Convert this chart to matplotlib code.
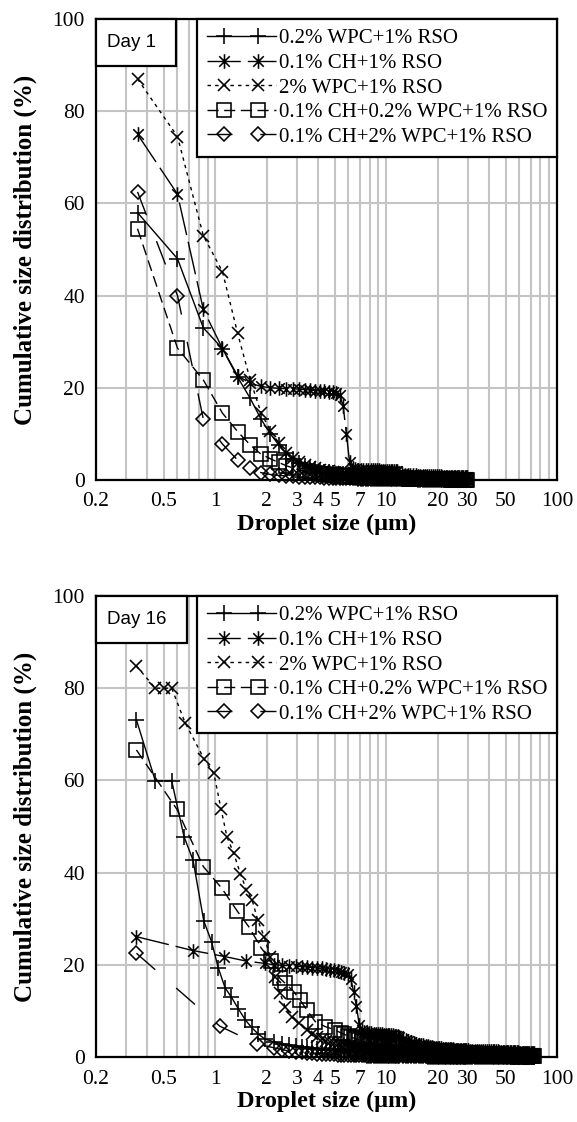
import numpy as np
import matplotlib
matplotlib.use('Agg')
import matplotlib.pyplot as plt
from matplotlib.path import Path
from matplotlib.lines import Line2D
from matplotlib.patches import Rectangle
from matplotlib.legend_handler import HandlerBase
from matplotlib.ticker import FixedLocator, LogLocator, NullFormatter

plt.rcParams['font.family'] = ['Liberation Serif', 'DejaVu Serif']
plt.rcParams['lines.scale_dashes'] = False

labels = ['0.2% WPC+1% RSO', '0.1% CH+1% RSO', '2% WPC+1% RSO',
          '0.1% CH+0.2% WPC+1% RSO', '0.1% CH+2% WPC+1% RSO']
xticks = [0.2, 0.5, 1, 2, 3, 4, 5, 7, 10, 20, 30, 50, 100]
xtick_labels = ['0.2', '0.5', '1', '2', '3', '4', '5', '7', '10', '20', '30', '50', '100']
yticks = [0, 20, 40, 60, 80, 100]

# ---- Day 1: all five samples share the same size classes ----
x_day1 = [0.35, 0.6, 0.85, 1.1, 1.35, 1.6, 1.85, 2.1, 2.35, 2.6, 2.85, 3.1, 3.35, 3.6,
          3.85, 4.1, 4.35, 4.6, 4.85, 5.1, 5.35, 5.6, 5.85, 6.1, 6.35, 6.6, 6.85, 7.1,
          7.35, 7.6, 7.85, 8.1, 8.35, 8.6, 8.85, 9.1, 9.35, 9.6, 9.85, 10.1, 10.35, 10.6,
          10.85, 11.1, 11.35, 11.6, 11.85,
          12.35, 12.85, 13.35, 13.85, 14.35, 14.85, 15.35, 15.85, 16.35, 16.85, 17.35,
          17.85, 18.35, 18.85, 19.35, 19.85, 20.35, 20.85, 21.35, 21.85, 22.35, 22.85,
          23.35, 23.85, 24.35, 24.85, 25.35, 25.85, 26.35, 26.85, 27.35, 27.85, 28.35,
          28.85, 29.35, 29.85]
d1_wpc02 = [58.0, 48.0, 33.0, 28.5, 22.3, 17.7, 13.2, 10.0, 7.6, 5.8, 4.6, 3.7, 3.1, 2.6,
            2.3, 2.0, 1.8, 1.65, 1.5, 1.4, 1.3, 1.2, 1.15, 1.1, 1.05, 1.0, .95, .9, .9, .85,
            .85, .8, .8, .75, .75, .7, .7, .7, .65, .65, .6, .6, .6, .55, .55, .55, .5,
            .5, .5, .45, .45, .45, .4, .4, .4, .35, .35, .35, .3, .3, .3, .3, .25, .25, .25,
            .25, .2, .2, .2, .2, .2, .15, .15, .15, .15, .15, .1, .1, .1, .1, .1, .1, .1]
d1_ch = [75.0, 62.0, 37.0, 28.5, 22.6, 21.0, 20.3, 20.0, 19.9, 19.8, 19.8, 19.7, 19.6, 19.5,
         19.4, 19.3, 19.2, 19.1, 19.0, 18.8, 18.4, 16.0, 10.0, 4.0, 2.6, 2.3, 2.2, 2.2, 2.2,
         2.2, 2.1, 2.1, 2.1, 2.1, 2.1, 2.1, 2.0, 2.0, 2.0, 2.0, 2.0, 2.0, 1.9, 1.9, 1.9, 1.9,
         1.3,
         1.2, 1.1, 1.1, 1.0, 1.0, 1.0, .9, .9, .9, .9, .8, .8, .8, .8, .8, .8, .8, .8, .7,
         .7, .7, .7, .7, .7, .7, .7, .7, .7, .6, .6, .6, .6, .6, .6, .6, .6]
d1_wpc2 = [87.0, 74.5, 53.0, 45.2, 31.8, 21.7, 14.6, 10.7, 8.0, 5.9, 4.7, 3.8, 3.2, 2.8,
           2.5, 2.2, 2.0, 1.85, 1.7, 1.6, 1.5, 1.45, 1.4, 1.35, 1.3, 1.25, 1.2, 1.15, 1.1,
           1.1, 1.05, 1.05, 1.0, 1.0, .95, .95, .9, .9, .85, .85, .8, .8, .8, .75, .75, .75,
           .7,
           .7, .65, .65, .6, .6, .55, .55, .5, .5, .5, .45, .45, .45, .4, .4, .4, .35, .35,
           .35, .35, .3, .3, .3, .3, .3, .25, .25, .25, .25, .25, .2, .2, .2, .2, .2, .2]
d1_ch_wpc02 = [54.5, 28.6, 21.7, 14.5, 10.5, 7.6, 5.6, 4.6, 3.8, 3.1, 2.6, 2.2, 1.9, 1.7,
               1.5, 1.35, 1.25, 1.15, 1.05, 1.0, .95, .9, .85, .8, .75, .7, .7, .65, .65, .6,
               .6, .55, .55, .55, .5, .5, .5, .45, .45, .45, .45, .4, .4, .4, .4, .4, .35,
               .35, .35, .3, .3, .3, .3, .25, .25, .25, .25, .25, .2, .2, .2, .2, .2, .2,
               .15, .15, .15, .15, .15, .15, .1, .1, .1, .1, .1, .1, .1, .05, .05, .05, .05,
               .05, .05]
d1_ch_wpc2 = [62.5, 40.0, 13.2, 7.8, 4.3, 2.5, 1.6, 1.2, 1.0, .9, .8, .75, .7, .65, .6, .55,
              .5, .5, .45, .45, .4, .4, .4, .35, .35, .35, .3, .3, .3, .3, .3, .25, .25, .25,
              .25, .25, .2, .2, .2, .2, .2, .2, .2, .15, .15, .15, .15,
              .15, .15, .15, .15, .15, .15, .1, .1, .1, .1, .1, .1, .1, .1, .1, .1, .1, .1,
              .1, .1, .05, .05, .05, .05, .05, .05, .05, .05, .05, .05, .05, .05, .05, .05,
              .05, .05]

# ---- Day 16: first points differ per sample, then common size classes ----
x_tail16 = [2.2, 2.45, 2.7, 2.95, 3.2, 3.45, 3.7, 3.95, 4.2, 4.45, 4.7, 4.95, 5.2, 5.45,
            5.7, 5.95, 6.2, 6.45, 6.7, 6.95, 7.2, 7.45, 7.7, 7.95, 8.2, 8.45, 8.7, 8.95,
            9.2, 9.45, 9.7, 9.95, 10.2, 10.45, 10.7, 10.95, 11.2, 11.45, 11.7, 11.95,
            12.5, 13, 13.5, 14, 14.5, 15, 15.5, 16, 16.5, 17, 17.5, 18, 18.5, 19, 19.5, 20,
            20.5, 21, 21.5, 22, 22.5, 23, 23.5, 24, 24.5, 25, 25.5, 26, 26.5, 27, 27.5, 28,
            28.5, 29, 29.5, 30,
            31, 32, 33, 34, 35, 36, 37, 38, 39, 40, 41, 42, 43, 44, 45, 46, 47, 48, 49, 50,
            51, 52, 53, 54, 55, 56, 57, 58, 59, 60, 61, 62, 63, 64, 65, 66, 67, 68, 69, 70,
            71, 72, 73]

x16_wpc02 = [0.345, 0.445, 0.555, 0.655, 0.74, 0.855, 0.95, 1.04, 1.14, 1.24, 1.36, 1.5,
             1.63, 1.78, 1.95] + x_tail16
d16_wpc02 = [73.1, 59.9, 59.9, 47.8, 42.7, 29.5, 25.0, 19.3, 15.0, 13.0, 10.5, 8.0, 6.4, 5.0,
             3.9,
             3.3, 2.9, 2.6, 2.4, 2.2, 2.0, 1.9, 1.8, 1.7, 1.6, 1.5, 1.45, 1.4, 1.35, 1.3, 1.25,
             1.2, 1.15, 1.1, 1.1, 1.05, 1.05, 1.0, 1.0, .95, .95, .9, .9, .9, .85, .85, .85,
             .8, .8, .8, .75, .75, .75, .7, .7,
             .7, .65, .65, .6, .6, .6, .55, .55, .55, .5, .5, .5, .45, .45, .45, .45, .4, .4,
             .4, .4, .35, .35, .35, .35, .35, .3, .3, .3, .3, .3, .3, .25, .25, .25, .25, .25,
             .25, .25, .25, .2, .2, .2, .2, .2, .2, .2, .2, .2, .2, .15, .15, .15, .15, .15,
             .15, .15, .15, .15, .15, .1, .1, .1, .1, .1, .1, .1, .1, .1, .1, .05, .05, .05,
             .05, .05, .05, .05, .05, .05, .05]

x16_ch = [0.345, 0.737, 1.13, 1.52, 1.95] + x_tail16
d16_ch = [26.1, 23.1, 21.8, 20.8, 20.3,
          20.0, 19.9, 19.8, 19.7, 19.6, 19.5, 19.4, 19.3, 19.2, 19.0, 18.9, 18.8, 18.6, 18.5,
          18.3, 18.0, 17.0, 14.0, 11.0, 7.0, 5.8, 5.5, 5.3, 5.2, 5.1, 5.0, 5.0, 4.9, 4.9, 4.9,
          4.8, 4.8, 4.8, 4.7, 4.7, 4.7, 4.6, 4.6, 4.5, 4.4,
          4.0, 3.7, 3.4, 3.2, 3.0, 2.8, 2.7, 2.6, 2.5, 2.4, 2.3, 2.2, 2.1, 2.0, 2.0, 1.9, 1.9,
          1.85, 1.8, 1.8, 1.75, 1.7, 1.7, 1.7, 1.65, 1.6, 1.6, 1.6, 1.55, 1.55, 1.5, 1.5, 1.5,
          1.5, 1.45, 1.45,
          1.4, 1.4, 1.4, 1.35, 1.35, 1.35, 1.3, 1.3, 1.3, 1.25, 1.25, 1.25, 1.2, 1.2, 1.2,
          1.15, 1.15, 1.15, 1.1, 1.1, 1.1, 1.1, 1.05, 1.05, 1.05, 1.0, 1.0, 1.0, 1.0, .95,
          .95, .95, .95, .9, .9, .9, .9, .85, .85, .85, .85, .8, .8]

x16_wpc2 = [0.345, 0.445, 0.5, 0.555, 0.665, 0.86, 0.98, 1.08, 1.17, 1.28, 1.40, 1.52, 1.64,
            1.77, 1.93, 2.09, 2.24, 2.39, 2.56, 2.8, 3.07] + x_tail16[5:]
d16_wpc2 = [84.8, 80.0, 80.0, 80.0, 72.5, 64.6, 61.5, 53.7, 47.7, 44.2, 39.8, 36.2, 34.1,
            29.7, 26.1, 21.8, 17.4, 13.8, 10.9, 8.7, 7.3,
            5.9, 5.0, 4.4, 3.9, 3.5, 3.2, 3.0, 2.8, 2.6, 2.5, 2.4, 2.3, 2.25, 2.2, 2.1, 2.05,
            2.0, 1.95, 1.9, 1.85, 1.8, 1.8, 1.75, 1.7, 1.7, 1.65, 1.6, 1.6, 1.55, 1.55, 1.5,
            1.5, 1.45, 1.45, 1.4,
            1.35, 1.3, 1.25, 1.2, 1.2, 1.15, 1.1, 1.1, 1.05, 1.0, 1.0, .95, .95, .9, .9, .85,
            .85, .8, .8, .8, .75, .75, .7, .7, .7, .65, .65, .65, .6, .6, .6, .55, .55, .55,
            .5, .5,
            .5, .5, .45, .45, .45, .45, .4, .4, .4, .4, .4, .35, .35, .35, .35, .35, .3, .3,
            .3, .3, .3, .3, .25, .25, .25, .25, .25, .25, .2, .2, .2, .2, .2, .2, .2, .15, .15,
            .15, .15, .15, .15, .15, .15]

x16_ch_wpc02 = [0.345, 0.596, 0.85, 1.09, 1.34, 1.58, 1.85, 2.12, 2.38, 2.56, 2.87, 3.13,
                3.43, 3.84, 4.39, 5.0] + x_tail16[13:]
d16_ch_wpc02 = [66.6, 53.7, 41.3, 36.6, 31.7, 28.1, 23.7, 20.8, 17.1, 16.0, 14.2, 12.4, 10.2,
                7.7, 6.6, 5.9,
                5.2, 4.9, 4.6, 4.3, 4.1, 3.9, 3.7, 3.55, 3.4, 3.3, 3.2, 3.1, 3.0, 2.9, 2.8,
                2.75, 2.7, 2.6, 2.55, 2.5, 2.45, 2.4, 2.35, 2.3, 2.25, 2.2, 2.15,
                2.1, 2.0, 1.95, 1.9, 1.85, 1.8, 1.75, 1.7, 1.65, 1.6, 1.55, 1.5, 1.45, 1.4, 1.4,
                1.35, 1.3, 1.3, 1.25, 1.2, 1.2, 1.15, 1.15, 1.1, 1.1, 1.05, 1.05, 1.0, 1.0, .95,
                .95, .95, .9, .9, .9, .85,
                .85, .8, .8, .75, .75, .7, .7, .7, .65, .65, .6, .6, .6, .55, .55, .55, .5, .5,
                .5, .5, .45, .45, .45, .45, .4, .4, .4, .4, .35, .35, .35, .35, .3, .3, .3, .3,
                .25, .25, .25, .25, .2, .2, .2]

x16_ch_wpc2 = [0.345, 1.06, 1.76] + x_tail16
d16_ch_wpc2 = [22.5, 6.7, 2.8,
               2.0, 1.6, 1.3, 1.1, 1.0, .9, .8, .75, .7, .65, .6, .55, .5, .5, .45, .45, .4,
               .4, .4, .35, .35, .35, .3, .3, .3, .3, .25, .25, .25, .25, .25, .2, .2, .2, .2,
               .2, .2, .2, .15, .15,
               .15, .15, .15, .15, .15, .15, .15, .15, .15, .15, .1, .1, .1, .1, .1, .1, .1,
               .1, .1, .1, .1, .1, .1, .1, .1, .1, .05, .05, .05, .05, .05, .05, .05, .05,
               .05, .05,
               .05, .05, .05, .05, .05, .05, .05, .05, .05, .05, .05, .05, .05, .05, .05, .05,
               .05, .05, .05, .05, .05, .05, .05, .05, .05, .05, .05, .05, .05, .05, .05, .05,
               .05, .05, .05, .05, .05, .05, .05, .05, .05, .05, .05]

# Excel-like asterisk: vertical bar plus a cross
star = Path([(0, -1), (0, 1), (-0.72, -0.72), (0.72, 0.72), (-0.72, 0.72), (0.72, -0.72)],
            [Path.MOVETO, Path.LINETO, Path.MOVETO, Path.LINETO, Path.MOVETO, Path.LINETO])

styles = [
    dict(marker='+', ms=11, ls='-'),
    dict(marker=star, ms=10.5, ls=(0, (24, 5))),
    dict(marker='x', ms=9, ls=(0, (2.5, 3))),
    dict(marker='s', ms=9.5, ls=(0, (8, 4))),
    dict(marker='D', ms=7, ls=(0, (18, 20))),
]


class TwoMarkers(HandlerBase):
    def create_artists(self, legend, orig_handle, xdescent, ydescent, width, height,
                       fontsize, trans):
        xs = np.linspace(-xdescent, -xdescent + width, 5)
        ys = np.full_like(xs, (height - ydescent) / 2)
        line = Line2D(xs, ys)
        self.update_prop(line, orig_handle, legend)
        line.set_markevery([1, 3])
        line.set_transform(trans)
        return [line]


def draw_panel(ax, series, day, box_w):
    handles = []
    for (xs, ys), st, lab in zip(series, styles, labels):
        h, = ax.plot(xs, ys, color='black', lw=1.0, mfc='none', mec='black', mew=1.15,
                     clip_on=False, label=lab, **st)
        handles.append(h)
    ax.set_xscale('log')
    ax.set_xlim(0.2, 100)
    ax.set_ylim(0, 100)
    ax.xaxis.set_major_locator(FixedLocator(xticks))
    ax.set_xticklabels(xtick_labels)
    ax.xaxis.set_minor_locator(LogLocator(base=10, subs=np.arange(2, 10)))
    ax.xaxis.set_minor_formatter(NullFormatter())
    ax.set_yticks(yticks)
    ax.grid(True, which='both', axis='x', color='#c4c4c4', lw=1.5)
    ax.grid(True, which='major', axis='y', color='#c4c4c4', lw=1.5)
    ax.set_axisbelow(True)
    ax.tick_params(which='both', length=0, labelsize=15.5)
    ax.tick_params(axis='x', pad=9)
    ax.tick_params(axis='y', pad=8)
    for sp in ax.spines.values():
        sp.set_linewidth(1.6)
        sp.set_color('black')
    ax.set_xlabel('Droplet size (\u03bcm)', fontsize=17.5, fontweight='bold', labelpad=2)
    ax.set_ylabel('Cumulative size distribution (%)', fontsize=18, fontweight='bold',
                  labelpad=11)
    leg = ax.legend(handles=handles, loc='upper right', bbox_to_anchor=(1, 1),
                    borderaxespad=0, fontsize=15, handlelength=3.3, handletextpad=0.15,
                    labelspacing=0.24, borderpad=0.47, fancybox=False,
                    handler_map={Line2D: TwoMarkers()})
    leg.get_frame().set_edgecolor('black')
    leg.get_frame().set_linewidth(1.6)
    leg.get_frame().set_alpha(1)
    leg.set_zorder(10)
    box_h = 0.103
    ax.add_patch(Rectangle((0, 1 - box_h), box_w, box_h, transform=ax.transAxes,
                           facecolor='white', edgecolor='black', lw=1.6, zorder=9,
                           clip_on=False))
    ax.text(box_w / 2 - 0.01, 1 - box_h / 2, day, transform=ax.transAxes, ha='center',
            va='center', fontsize=13.5, family=['Liberation Sans', 'DejaVu Sans'], zorder=11)


fig = plt.figure(figsize=(5.77, 11.22), dpi=100)
ax1 = fig.add_axes([96 / 577, 1 - 480 / 1122, 461 / 577, 461 / 1122])
ax2 = fig.add_axes([96 / 577, 1 - 1057 / 1122, 461 / 577, 461 / 1122])

draw_panel(ax1, [(x_day1, d1_wpc02), (x_day1, d1_ch), (x_day1, d1_wpc2),
                 (x_day1, d1_ch_wpc02), (x_day1, d1_ch_wpc2)], 'Day 1', 0.174)
draw_panel(ax2, [(x16_wpc02, d16_wpc02), (x16_ch, d16_ch), (x16_wpc2, d16_wpc2),
                 (x16_ch_wpc02, d16_ch_wpc02), (x16_ch_wpc2, d16_ch_wpc2)], 'Day 16', 0.197)

fig.savefig('out.png', dpi=100)
